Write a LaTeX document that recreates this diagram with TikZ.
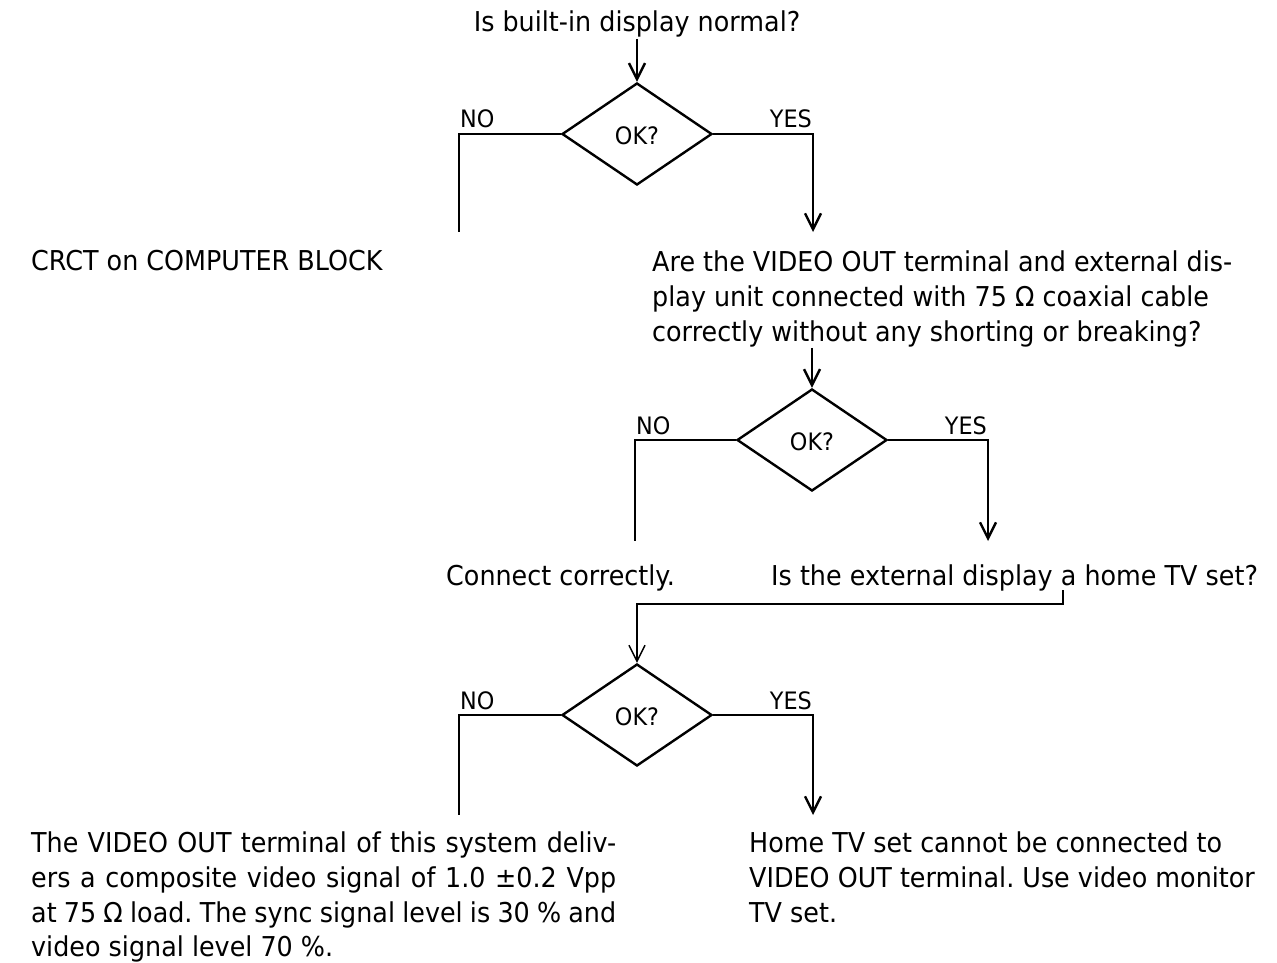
\documentclass[tikz,border=0pt]{standalone}
\usepackage{fontspec}
\setmainfont[FakeStretch=0.93]{DejaVu Sans}
\usetikzlibrary{shapes.geometric,arrows.meta}
\frenchspacing
\begin{document}
\begin{tikzpicture}[x=0.75pt,y=-0.75pt,line width=1.8pt,
	font=\fontsize{20.5pt}{25.9pt}\selectfont,
	txt/.style={inner sep=0pt},
	dec/.style={draw,diamond,inner sep=0pt,minimum width=112.5pt,minimum height=76.5pt},
	lbl/.style={inner sep=0pt,font=\fontsize{18pt}{18pt}\selectfont},
	arr/.style={-{Straight Barb[length=12pt,width=12pt]}}]
	\useasboundingbox (0,0) rectangle (1277,963);
	          \node[txt,anchor=base] (q1) at (637,32) {Is built-in display normal?};
	          \foreach \n/\x/\y/\nx/\yx/\e in {1/637/134/459/813/232,2/812/440/635/988/541,3/637/715/459/813/815} {
	            \node[dec] (d\n) at (\x,\y) {};
	            \node[lbl] (ok\n) at (\x,{\y+2}) {OK?};
	            \node[lbl,anchor=base west] (no\n) at (\nx,{\y-6}) {NO};
	            \node[lbl,anchor=base east] (yes\n) at (\yx,{\y-6}) {YES};
	            \coordinate (noe\n) at (\nx,\e);
	            \coordinate (yese\n) at (\yx,\e);
	            \draw(d\n.west) -| (noe\n);
	            \draw[arr](d\n.east) -| (yese\n);
	          }
	          \draw[arr](q1.south) --(d1.north);
	          \node[txt,anchor=base west] (crct) at (30,270) {CRCT on COMPUTER BLOCK};
	          \node[txt,anchor=north west,align=left] (q2) at (651,250) {Are the VIDEO OUT terminal and external dis-\\play unit connected with 75 Ω coaxial cable\\correctly without any shorting or breaking?};
	          \draw[arr](q2.south -| d2.north) --(d2.north);
	          \node[txt,anchor=base west] (fix) at (445,585) {Connect correctly.};
	          \node[txt,anchor=base west] (q3) at (770,585) {Is the external display a home TV set?};
	          \coordinate (b1) at (1063,590);
	          \coordinate (b2) at (637,604);
	          \draw[arr,line width=1.1pt](b1) |- (b2) --(d3.north);
	          \node[txt,anchor=north west,text width=438.75pt,align=justify] (spec) at (30,831) {The VIDEO OUT terminal of this system deliv-\linebreak ers a composite video signal of 1.0 ±0.2 Vpp\linebreak at 75 Ω load. The sync signal level is 30 \% and\linebreak video signal level 70 \%.};
	          \node[txt,anchor=north west,align=left] (tv) at (748,831) {Home TV set cannot be connected to\\VIDEO OUT terminal. Use video monitor\\TV set.};
\end{tikzpicture}
\end{document}
